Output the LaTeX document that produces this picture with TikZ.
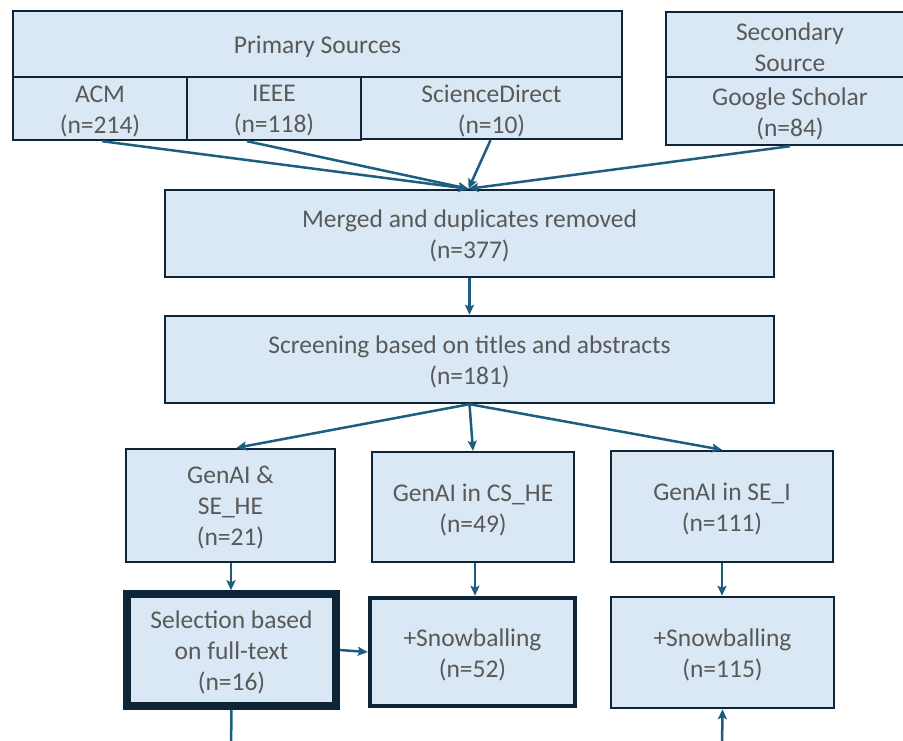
\documentclass[tikz,border=0pt]{standalone}
\usepackage{fontspec}
\setmainfont{Carlito}
\usetikzlibrary{arrows.meta}
\definecolor{boxfill}{HTML}{DAE8F5}
\definecolor{boxline}{HTML}{0D2537}
\definecolor{arrowc}{HTML}{1D5E80}
\definecolor{txt}{HTML}{595959}
\tikzset{
  box/.style={draw=boxline, fill=boxfill, line width=2.4pt, inner sep=0pt},
  tx/.style={text=txt, font=\fontsize{25.5}{31}\selectfont, align=center, inner sep=0pt, yshift=-2.5pt},
  thickbox/.style={box, line width=7.5pt},
  midbox/.style={box, line width=4.5pt},
  conn/.style={draw=arrowc, line width=2.5pt, -{Stealth[length=10pt,width=9pt,inset=2pt]}},
}
\begin{document}
\begin{tikzpicture}[x=1pt,y=-1pt]
\useasboundingbox (0,0) rectangle (903,740);
\clip (0,0) rectangle (903,740);
\fill[white] (0,0) rectangle (903,740);
% top sources
\node[box, minimum width=609pt, minimum height=66pt, label={[tx]center:{Primary Sources}}] (prim) at (317.5,44) {};
\node[box, minimum width=174pt, minimum height=63pt, label={[tx]center:{ACM\\(n=214)}}] (acm) at (100,108.5) {};
\node[box, minimum width=174pt, minimum height=63pt, label={[tx]center:{IEEE\\(n=118)}}] (ieee) at (274,108.5) {};
\node[box, minimum width=261pt, minimum height=62pt, label={[tx]center:{ScienceDirect\\(n=10)}}] (sd) at (491.5,108) {};
\node[box, minimum width=248pt, minimum height=65pt, label={[tx]center:{Secondary\\Source}}] (sec) at (790,44.5) {};
\node[box, minimum width=248pt, minimum height=68pt, label={[tx]center:{Google Scholar\\(n=84)}}] (gs) at (790,111) {};
% middle
\node[box, minimum width=609pt, minimum height=87pt, label={[tx]center:{Merged and duplicates removed\\(n=377)}}] (merged) at (469.5,233.5) {};
\node[box, minimum width=609pt, minimum height=87pt, label={[tx]center:{Screening based on titles and abstracts\\(n=181)}}] (screen) at (469.5,359.5) {};
% categories
\node[box, minimum width=209pt, minimum height=113pt, label={[tx]center:{GenAI \&\\SE\_HE\\(n=21)}}] (g1) at (230.5,505.5) {};
\node[box, minimum width=202pt, minimum height=110pt, label={[tx]center:{GenAI in CS\_HE\\(n=49)}}] (g2) at (473,507) {};
\node[box, minimum width=222pt, minimum height=111pt, label={[tx]center:{GenAI in SE\_I\\(n=111)}}] (g3) at (722,506.5) {};
% bottom row
\node[thickbox, minimum width=209pt, minimum height=112pt, label={[tx]center:{Selection based\\on full-text\\(n=16)}}] (sel) at (231.5,650) {};
\node[midbox, minimum width=205pt, minimum height=108pt, label={[tx]center:{+Snowballing\\(n=52)}}] (sn1) at (472.5,652) {};
\node[box, minimum width=223pt, minimum height=111pt, label={[tx]center:{+Snowballing\\(n=115)}}] (sn2) at (722.5,652.5) {};
\coordinate (selout) at (231,750);
\coordinate (sn2in) at (722,750);
% connectors
\draw[conn] ([xshift=2pt]acm.south) -- ([xshift=-1pt]merged.north);
\draw[conn] ([xshift=-27pt]ieee.south) -- ([xshift=-1pt]merged.north);
\draw[conn] ([xshift=-1pt]sd.south) -- ([xshift=-1pt]merged.north);
\draw[conn] (gs.south) -- ([xshift=-1pt]merged.north);
\draw[conn] (merged.south) -- (screen.north);
\draw[conn] (screen.south) -- ([xshift=6pt]g1.north);
\draw[conn] (screen.south) -- (g2.north);
\draw[conn] (screen.south) -- (g3.north);
\draw[conn] ([xshift=0.5pt]g1.south) -- ([xshift=0.5pt]g1.south |- sel.north);
\draw[conn] ([xshift=2pt]g2.south) -- ([xshift=2pt]g2.south |- sn1.north);
\draw[conn] (g3.south) -- (g3.south |- sn2.north);
\draw[conn] (sel.east) -- (sn1.west);
\draw[draw=arrowc, line width=2.5pt] (sel.south) -- (selout);
\draw[conn] (sn2in) -- (sn2.south);
\end{tikzpicture}
\end{document}
